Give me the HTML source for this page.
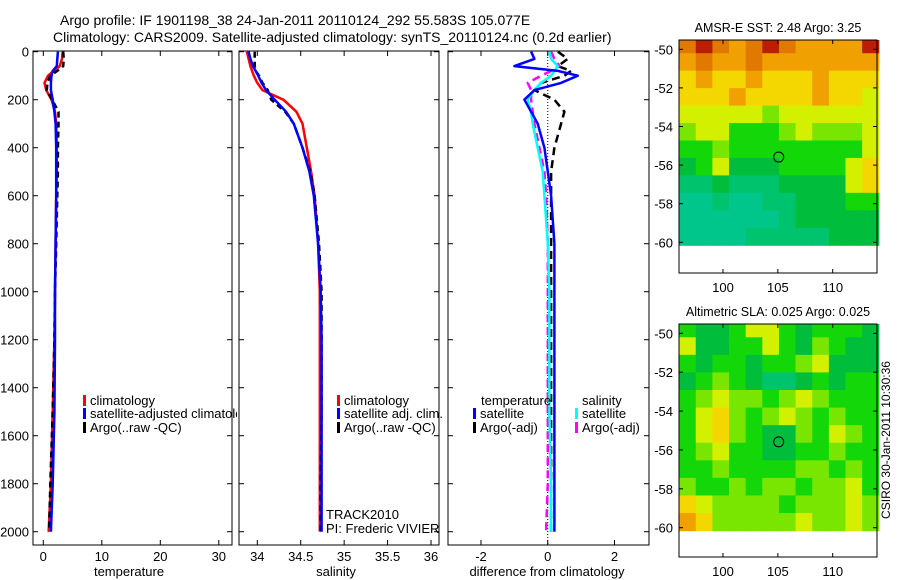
<!DOCTYPE html>
<html><head><meta charset="utf-8">
<style>
body{margin:0;background:#fff;}
svg{display:block;font-family:"Liberation Sans",sans-serif;}
</style></head>
<body>
<svg id="chart" width="900" height="580" viewBox="0 0 900 580" xmlns="http://www.w3.org/2000/svg">
<defs><clipPath id="clipT"><rect x="0" y="0" width="237" height="580"/></clipPath></defs>
<rect x="0" y="0" width="900" height="580" fill="#fff"/>
<text x="60" y="25" font-size="14">Argo profile: IF 1901198_38 24-Jan-2011 20110124_292 55.583S 105.077E</text>
<text x="53" y="42" font-size="14">Climatology: CARS2009. Satellite-adjusted climatology: synTS_20110124.nc (0.2d earlier)</text>
<g id="g"></g>
</svg>
<script>
// ---- data ----
const depthLevels = [0,30,60,80,100,130,160,200,250,300,400,500,600,800,1000,1200,1500,1800,2000];
const tempClim   = [3.3,3.2,2.8,1.8,0.8,0.2,0.5,1.4,2.0,2.2,2.3,2.3,2.2,2.1,2.0,1.9,1.6,1.3,0.9];
const tempSat    = [2.5,2.4,2.3,1.6,1.4,1.3,1.3,1.6,1.9,2.1,2.2,2.2,2.2,2.1,2.0,2.0,1.9,1.6,1.3];
const tempArgo   = [3.4,3.5,3.4,2.4,1.2,0.7,0.6,1.5,2.6,2.6,2.5,2.5,2.4,2.2,2.0,1.9,1.6,1.2,1.0];
const salClim    = [33.88,33.90,33.92,33.94,33.96,34.00,34.06,34.30,34.45,34.52,34.57,34.62,34.66,34.70,34.72,34.72,34.72,34.72,34.72];
const salSat     = [33.90,33.92,33.95,33.98,34.01,34.05,34.10,34.20,34.33,34.42,34.52,34.60,34.65,34.70,34.73,34.74,34.74,34.74,34.74];
const salArgo    = [33.97,33.97,33.97,33.98,34.02,34.06,34.12,34.16,34.32,34.42,34.52,34.61,34.66,34.71,34.74,34.74,34.74,34.73,34.73];
const diffTSat   = [-0.5,-0.4,-1.0,0.3,0.9,0.4,-0.4,-0.7,-0.5,-0.3,-0.1,0.0,0.1,0.2,0.2,0.2,0.2,0.2,0.2];
const diffTArgo  = [0.3,0.6,0.3,0.7,0.5,-0.2,-0.4,0.2,0.5,0.4,0.2,0.1,0.1,0.1,0.1,0.1,0.1,0.1,0.1];
const diffSSat   = [0.05,0.1,0.3,0.2,0.1,-0.2,-0.4,-0.6,-0.5,-0.45,-0.3,-0.15,-0.1,0.0,0.05,0.05,0.05,0.1,0.1];
const diffSArgo  = [0.1,0.2,0.35,0.1,-0.2,-0.6,-0.5,-0.5,-0.45,-0.4,-0.25,-0.1,-0.05,0.0,0.0,0.0,0.0,0.0,-0.05];
const depthTicks = [0,200,400,600,800,1000,1200,1400,1600,1800,2000];
const tempTicks = [0,10,20,30];
const salTicks = [34,34.5,35,35.5,36];
const diffTicks = [-2,0,2];
const lonTicks = [100,105,110];
const latTicks = [-50,-52,-54,-56,-58,-60];
const sstGrid = [
[9,10,9,8,9,10,9,8,8,8,8,10],
[8,9,8,8,9,8,8,8,8,8,8,8],
[7,8,7,7,8,7,7,7,8,7,7,7],
[7,7,7,8,7,7,7,7,8,7,7,6],
[6,6,6,6,6,5,6,6,6,6,6,6],
[5,6,6,4,4,4,5,6,5,5,5,6],
[4,4,5,4,4,4,4,4,4,4,4,6],
[3,4,6,3,3,3,4,4,4,4,6,7],
[2,2,3,2,2,2,3,3,3,3,6,7],
[1,1,2,1,1,2,2,3,3,3,4,4],
[1,1,1,1,1,1,2,3,3,3,3,3],
[1,1,1,1,2,2,2,2,2,3,3,3]];
const slaGrid = [
[4,3,3,4,6,6,4,3,4,4,4,3],
[6,3,3,4,4,6,4,3,5,4,3,3],
[4,3,4,4,3,4,4,5,6,3,3,3],
[3,4,5,4,3,2,2,3,4,3,4,4],
[4,5,6,5,5,4,5,6,5,4,4,4],
[4,6,7,5,4,5,6,5,4,5,4,4],
[4,6,7,5,4,3,3,5,4,6,5,4],
[4,5,6,4,4,3,3,4,4,5,4,4],
[4,4,5,4,4,4,4,5,5,4,5,4],
[5,4,4,5,4,5,5,4,5,5,6,4],
[7,6,5,5,5,5,4,5,5,5,6,5],
[8,7,5,5,5,5,5,6,5,5,6,5]];
const argoLon = 105.077, argoLat = -55.583;

// ---- helpers ----
const NS="http://www.w3.org/2000/svg";
const G=document.getElementById('g');
function mk(tag,attrs,parent){const e=document.createElementNS(NS,tag);for(const k in attrs)e.setAttribute(k,attrs[k]);(parent||G).appendChild(e);return e;}
const yD = d => 51.7 + d*0.24;
function lin(d0,d1,p0,p1){return v=>p0+(v-d0)*(p1-p0)/(d1-d0);}
const xT = lin(0,10,43.3,101.8);
const xS = lin(34,36,257.3,431);
const xDf = lin(-2,2,481,614.5);
const pTop=51, pBot=545;

function frame(name,x0,x1,xf,ticks,label,lx){
  const r=mk('rect',{x:x0,y:pTop,width:x1-x0,height:pBot-pTop,fill:'none',stroke:'#000','stroke-width':1});
  
  
  ticks.forEach(t=>{const x=xf(t);
    mk('line',{x1:x,x2:x,y1:pBot,y2:pBot-5,stroke:'#000'});
    mk('line',{x1:x,x2:x,y1:pTop,y2:pTop+5,stroke:'#000'});
    const tx=mk('text',{x:x,y:pBot+16,'font-size':13,'text-anchor':'middle'});tx.textContent=t;
    
    
  });
  depthTicks.forEach(d=>{const y=yD(d);
    mk('line',{x1:x0,x2:x0+5,y1:y,y2:y,stroke:'#000'});
    mk('line',{x1:x1,x2:x1-5,y1:y,y2:y,stroke:'#000'});
  });
  const l=mk('text',{x:lx,y:576,'font-size':13,'text-anchor':'middle'});l.textContent=label;
  
  
}
function series(name,vals,xf,color,w,dash){
  const pts=vals.map((v,i)=>xf(v).toFixed(1)+','+yD(depthLevels[i]).toFixed(1)).join(' ');
  const p=mk('polyline',{points:pts,fill:'none',stroke:color,'stroke-width':w,'stroke-dasharray':dash||'none','stroke-linejoin':'round'});
  
  
}
function legend(name,x,y,color,label){
  const r=mk('rect',{x:x,y:y-10,width:3,height:11,fill:color});
  
  
  const t=mk('text',{x:x+7,y:y,'font-size':13});t.textContent=label;
  
  
  return t;
}

depthTicks.forEach(d=>{const t=mk('text',{x:29,y:yD(d)+5,'font-size':13,'text-anchor':'end'});t.textContent=d;
  
  });

frame('temperature-panel',33,232,xT,tempTicks,'temperature',129);
series('temp-climatology-line',tempClim,xT,'#f00',2.5);
series('temp-argo-line',tempArgo,xT,'#000',2.5,'6,4');
series('temp-satellite-line',tempSat,xT,'#00f',2.5);
legend('legend-climatology',83,405,'#f00','climatology');
const longLeg = legend('legend-satellite-adjusted',83,418,'#00f','satellite-adjusted climatology');
longLeg.setAttribute('clip-path','url(#clipT)');
legend('legend-argo',83,432,'#000','Argo(..raw -QC)');

frame('salinity-panel',239,439,xS,salTicks,'salinity',336);
series('sal-climatology-line',salClim,xS,'#f00',2.5);
series('sal-argo-line',salArgo,xS,'#000',2.5,'6,4');
series('sal-satellite-line',salSat,xS,'#00f',2.5);
legend('legend-sal-climatology',337,405,'#f00','climatology');
legend('legend-sal-satellite',337,418,'#00f','satellite adj. clim.');
legend('legend-sal-argo',337,432,'#000','Argo(..raw -QC)');
let t1=mk('text',{x:326,y:519,'font-size':13});t1.textContent='TRACK2010';


let t2=mk('text',{x:326,y:533,'font-size':13});t2.textContent='PI: Frederic VIVIER';



frame('difference-panel',448,649,xDf,diffTicks,'difference from climatology',547);
mk('line',{x1:xDf(0),x2:xDf(0),y1:pTop,y2:pBot,stroke:'#000','stroke-dasharray':'1,2'});
series('diff-temp-argo-line',diffTArgo,xDf,'#000',2.5,'8,5');
series('diff-sal-argo-line',diffSArgo,xDf,'#f0f',2.5,'8,5');
series('diff-sal-satellite-line',diffSSat,xDf,'#0ff',2.5);
series('diff-temp-satellite-line',diffTSat,xDf,'#00f',2.5);
let lt=mk('text',{x:481,y:405,'font-size':13});lt.textContent='temperature';


legend('legend-diff-temp-satellite',473,418,'#00f','satellite');
legend('legend-diff-temp-argo',473,432,'#000','Argo(-adj)');
let ls=mk('text',{x:582,y:405,'font-size':13});ls.textContent='salinity';


legend('legend-diff-sal-satellite',575,418,'#0ff','satellite');
legend('legend-diff-sal-argo',575,432,'#f0f','Argo(-adj)');

function cmap(v){
  const stops=[[0,[0,200,170]],[2,[0,195,110]],[3,[0,190,60]],[4,[20,215,10]],[5,[120,230,0]],[6,[210,240,0]],[7,[245,215,0]],[8,[240,160,0]],[9,[225,120,0]],[10,[185,30,0]]];
  for(let i=0;i<stops.length-1;i++){const[a,ca]=stops[i],[b,cb]=stops[i+1];
    if(v<=b){const f=(v-a)/(b-a);return 'rgb('+ca.map((c,k)=>Math.round(c+(cb[k]-c)*f)).join(',')+')';}}
  return 'rgb(185,30,0)';
}
function drawMap(name,title,grid,y0,y1,latA,latB){
  const x0=679,x1=877;
  const xL=lin(100,110,723,832.7), yL=lin(-50,-60,latA,latB);
  const lon0=96, lon1=114.2, lat0=-49.3, lat1=-60.15;
  const rows=grid.length, cols=grid[0].length;
  grid.forEach((row,i)=>row.forEach((v,j)=>{
    const xa=xL(lon0+(lon1-lon0)*j/cols), xb=xL(lon0+(lon1-lon0)*(j+1)/cols);
    const ya=Math.max(y0,yL(lat0+(lat1-lat0)*i/rows)), yb=yL(lat0+(lat1-lat0)*(i+1)/rows);
    const c=mk('rect',{x:xa,y:ya,width:xb-xa+0.6,height:yb-ya+0.6,fill:cmap(v)});
    
    
  }));
  const f=mk('rect',{x:x0,y:y0,width:x1-x0,height:y1-y0,fill:'none',stroke:'#000'});
  
  
  lonTicks.forEach(l=>{const x=xL(l);
    mk('line',{x1:x,x2:x,y1:y0,y2:y0+4,stroke:'#000'});mk('line',{x1:x,x2:x,y1:y1,y2:y1-4,stroke:'#000'});
    const t=mk('text',{x:x,y:y1+19,'font-size':13,'text-anchor':'middle'});t.textContent=l;
    
    });
  latTicks.forEach(l=>{const y=yL(l);
    mk('line',{x1:x0,x2:x0+4,y1:y,y2:y,stroke:'#000'});mk('line',{x1:x1,x2:x1-4,y1:y,y2:y,stroke:'#000'});
    const t=mk('text',{x:x0-6,y:y+5,'font-size':13,'text-anchor':'end'});t.textContent=l;
    
    });
  const tt=mk('text',{x:778,y:y0-8,'font-size':12.5,'text-anchor':'middle'});tt.textContent=title;
  
  
  const m=mk('circle',{cx:xL(argoLon),cy:yL(argoLat),r:5,fill:'none',stroke:'#000'});
  
  
}
drawMap('sst-map','AMSR-E SST: 2.48 Argo: 3.25',sstGrid,40,273,49.3,242.3);
drawMap('sla-map','Altimetric SLA: 0.025 Argo: 0.025',slaGrid,324,557,333.3,527.7);
const cs=mk('text',{x:0,y:0,'font-size':12,'text-anchor':'middle',transform:'translate(890,440) rotate(-90)'});
cs.textContent='CSIRO 30-Jan-2011 10:30:36';


</script>
</body></html>
